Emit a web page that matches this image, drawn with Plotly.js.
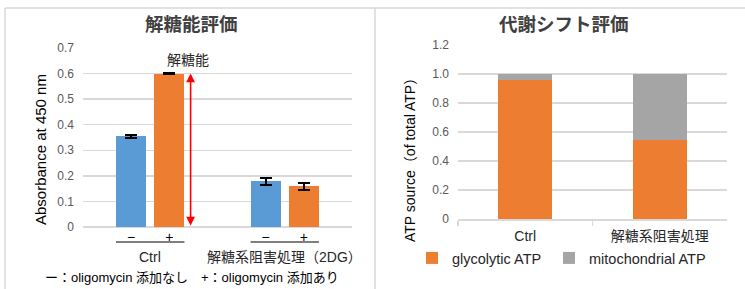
<!DOCTYPE html>
<html><head><meta charset="utf-8">
<script src="https://cdn.plot.ly/plotly-3.0.1.min.js"></script>
<style>html,body{margin:0;padding:0;background:#fff}#c{width:745px;height:289px}</style>
</head><body><div id="c"></div>
<script>
// ---- data ----
const leftGroups = ["Ctrl", "解糖系阻害処理（2DG）"];
const oligoLabels = ["−", "+"];
const noOligo = [0.355, 0.178];
const noOligoErr = [0.006, 0.014];
const withOligo = [0.600, 0.160];
const withOligoErr = [0.002, 0.014];

const rightCats = ["Ctrl", "解糖系阻害処理"];
const glycolytic = [0.96, 0.545];
const mitochondrial = [0.04, 0.455];
const rightTickVals = [0, 0.2, 0.4, 0.6, 0.8, 1.0, 1.2];
const rightTickText = ["0", "0.2", "0.4", "0.6", "0.8", "1.0", "1.2"];

// ---- layout helpers ----
const W = 745, H = 289;
const px = v => v / W, py = v => 1 - v / H;
const FONT = "Liberation Sans, Arial, Noto Sans CJK JP, sans-serif";
const BLUE = "#5B9BD5", ORANGE = "#ED7D31", GRAY = "#A5A5A5", GRID = "#D9D9D9";
const groupStep = 3.5;
const posNo = leftGroups.map((g, i) => i * groupStep);
const posWith = leftGroups.map((g, i) => i * groupStep + 1);
const bw = 0.78;

const traces = [
  {type: "bar", x: posNo, y: noOligo, width: bw, marker: {color: BLUE},
   error_y: {type: "data", array: noOligoErr, color: "#000", thickness: 2, width: 6},
   xaxis: "x", yaxis: "y", showlegend: false, hoverinfo: "skip"},
  {type: "bar", x: posWith, y: withOligo, width: bw, marker: {color: ORANGE},
   error_y: {type: "data", array: withOligoErr, color: "#000", thickness: 2, width: 6},
   xaxis: "x", yaxis: "y", showlegend: false, hoverinfo: "skip"},
  {type: "bar", x: rightCats, y: glycolytic, name: "glycolytic ATP", width: 0.4,
   marker: {color: ORANGE}, xaxis: "x2", yaxis: "y2", legend: "legend"},
  {type: "bar", x: rightCats, y: mitochondrial, name: "mitochondrial ATP", width: 0.4,
   marker: {color: GRAY}, xaxis: "x2", yaxis: "y2", legend: "legend2"}
];

const tickVals = [], tickText = [];
leftGroups.forEach((g, i) => {
  tickVals.push(posNo[i], posWith[i]);
  tickText.push(oligoLabels[0], oligoLabels[1]);
});

const P = (o) => Object.assign({xref: "paper", yref: "paper", showarrow: false, xanchor: "center", yanchor: "middle"}, o);
const annotations = [
  P({text: "<b>解糖能評価</b>", x: px(191), y: py(25), font: {size: 18.5, color: "#404040", family: FONT}}),
  P({text: "<b>代謝シフト評価</b>", x: px(564), y: py(25), font: {size: 18.5, color: "#404040", family: FONT}}),
  P({text: "Absorbance at 450 nm", x: px(40), y: py(150), textangle: -90, font: {size: 15, color: "#000", family: FONT}}),
  P({text: "ATP source（of total ATP）", x: px(410), y: py(157), textangle: -90, font: {size: 14, color: "#000", family: FONT}}),
  P({text: "解糖能", x: px(188), y: py(60), font: {size: 14, color: "#262626", family: FONT}}),
  {text: "", x: posWith[0] + 0.55, y: withOligo[0], ax: posWith[0] + 0.55, ay: 0,
   xref: "x", yref: "y", axref: "x", ayref: "y", showarrow: true,
   arrowside: "end+start", arrowhead: 2, arrowsize: 1.1, arrowwidth: 1.6, arrowcolor: "#FF0000"},
  P({text: "ー：oligomycin 添加なし　+：oligomycin 添加あり", x: px(192), y: py(277),
     font: {size: 13, color: "#000", family: FONT}})
];
leftGroups.forEach((g, i) => {
  annotations.push({text: g, x: (posNo[i] + posWith[i]) / 2, y: py(257), xref: "x", yref: "paper",
    xanchor: "center", yanchor: "middle", showarrow: false, font: {size: 14, color: "#262626", family: FONT}});
});

const shapes = [
  {type: "line", xref: "paper", yref: "paper", x0: px(5), x1: 1, y0: py(8), y1: py(8), line: {color: GRID, width: 1.5}},
  {type: "line", xref: "paper", yref: "paper", x0: px(5), x1: px(5), y0: py(8), y1: 0, line: {color: GRID, width: 1.5}},
  {type: "line", xref: "paper", yref: "paper", x0: px(375), x1: px(375), y0: py(8), y1: 0, line: {color: GRID, width: 1.5}}
];
leftGroups.forEach((g, i) => {
  shapes.push({type: "line", xref: "x", yref: "paper", x0: posNo[i] - bw / 2, x1: posWith[i] + bw / 2,
    y0: py(242), y1: py(242), line: {color: "#000", width: 1.2}});
});

const legendBase = {orientation: "h", y: py(258), xanchor: "left", yanchor: "middle",
  font: {size: 14.5, color: "#262626"}, bgcolor: "rgba(0,0,0,0)"};

const layout = {
  width: W, height: H, margin: {l: 0, r: 0, t: 0, b: 0, autoexpand: false},
  paper_bgcolor: "#fff", plot_bgcolor: "rgba(0,0,0,0)",
  font: {family: FONT, color: "#595959"},
  barmode: "stack", bargap: 0,
  xaxis: {domain: [px(83), px(352)], range: [-1.25, 5.75], tickvals: tickVals, ticktext: tickText,
    tickfont: {size: 14, color: "#000"}, showgrid: false, zeroline: false, showline: false, ticks: "", fixedrange: true},
  yaxis: {domain: [py(227), py(48)], range: [0, 0.7], dtick: 0.1, tickfont: {size: 12, color: "#595959"},
    gridcolor: GRID, gridwidth: 1.5, zeroline: true, zerolinecolor: GRID, zerolinewidth: 1.5, ticklabelstandoff: 8},
  xaxis2: {domain: [px(458), px(727)], type: "category", tickfont: {size: 14, color: "#262626"},
    showline: true, linecolor: GRID, linewidth: 1.5, ticks: "outside", tickson: "boundaries",
    ticklen: 5, tickcolor: GRID, tickwidth: 1.5, showgrid: false, anchor: "y2", ticklabelstandoff: 4},
  yaxis2: {domain: [py(219), py(45)], range: [0, 1.2], tickvals: rightTickVals, ticktext: rightTickText,
    tickfont: {size: 12, color: "#595959"}, gridcolor: GRID, gridwidth: 1.5, zeroline: false,
    ticklabelstandoff: 8, anchor: "x2"},
  showlegend: true,
  legend: Object.assign({x: px(412)}, legendBase),
  legend2: Object.assign({x: px(549)}, legendBase),
  annotations: annotations, shapes: shapes
};

Plotly.newPlot("c", traces, layout, {staticPlot: true, displayModeBar: false});
</script></body></html>
